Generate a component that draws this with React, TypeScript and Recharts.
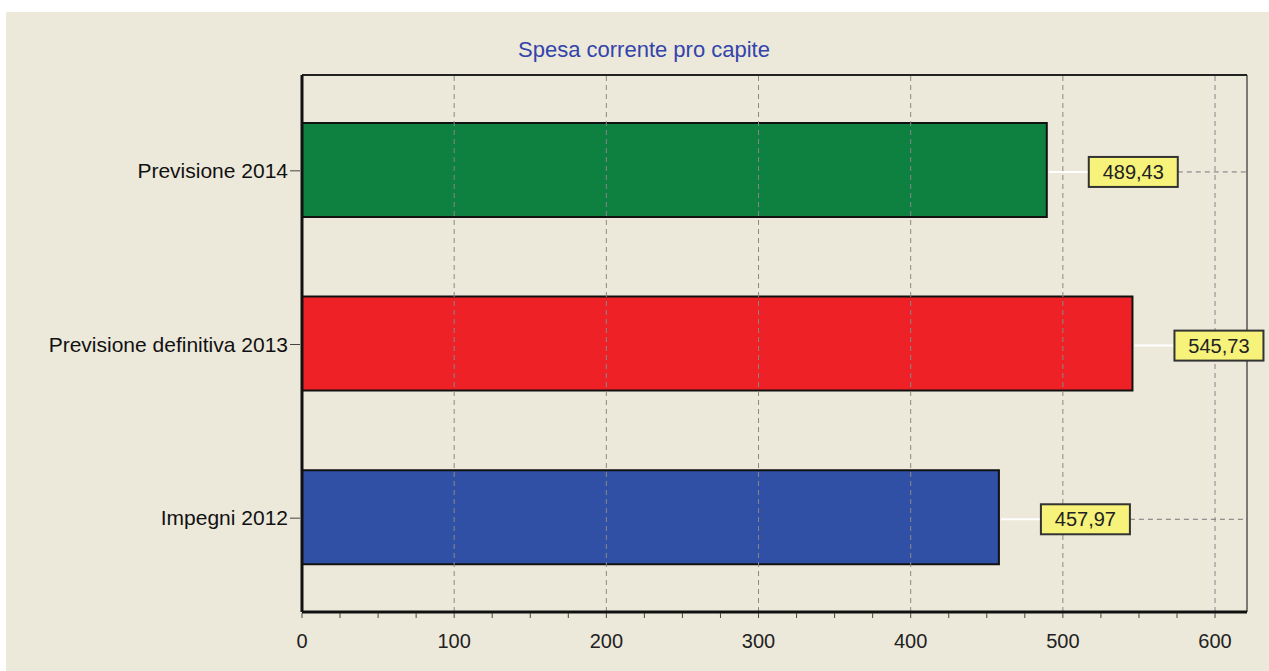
import React from 'react';
import { BarChart, Bar, XAxis, YAxis, Cell, LabelList, ReferenceLine } from 'recharts';

const categories = ['Previsione 2014', 'Previsione definitiva 2013', 'Impegni 2012'];
const values = [489.43, 545.73, 457.97];
const valueLabels = ['489,43', '545,73', '457,97'];
const colors = ['#0E8040', '#EE2226', '#3050A5'];
const xTicks = [0, 25, 50, 75, 100, 125, 150, 175, 200, 225, 250, 275, 300, 325, 350, 375, 400, 425, 450, 475, 500, 525, 550, 575, 600];
const majorTicks = [0, 100, 200, 300, 400, 500, 600];
const gridLines = [100, 200, 300, 400, 500, 600];
const xMax = 621;
const title = 'Spesa corrente pro capite';

const data = categories.map((c, i) => ({ name: c, value: values[i], label: valueLabels[i] }));

const W = 1269;
const H = 671;
const MARGIN = { top: 74, right: 22, bottom: 0, left: 0 };
const PLOT_RIGHT = W - MARGIN.right;
const FONT = '"Liberation Sans", Arial, sans-serif';

const XTick = (props: any) => {
  const { x, y, payload } = props;
  const v = payload.value;
  const isMajor = majorTicks.indexOf(v) >= 0;
  return (
    <g>
      <line x1={x} x2={x} y1={y - 7} y2={y - 2} stroke="#444" strokeWidth={1} />
      {isMajor && (
        <text x={x} y={y + 28} textAnchor="middle" fontSize={20} fontFamily={FONT} fill="#222">
          {v}
        </text>
      )}
    </g>
  );
};

const YTick = (props: any) => {
  const { x, y, payload } = props;
  return (
    <g>
      <line x1={x - 4} x2={x + 6} y1={y + 1} y2={y + 1} stroke="#444" strokeWidth={1} />
      <text x={x - 6} y={y + 8} textAnchor="end" fontSize={21} fontFamily={FONT} fill="#111">
        {payload.value}
      </text>
    </g>
  );
};

const LabelBox = (props: any) => {
  const { x, y, width, height, index } = props;
  const end = x + width;
  const cy = y + height / 2 + 2;
  const lx = end + 42;
  const bw = 89;
  const bh = 30;
  return (
    <g>
      <line x1={end + 2} x2={lx} y1={cy} y2={cy} stroke="#ffffff" strokeWidth={2} />
      {lx + bw < PLOT_RIGHT && (
        <line x1={lx + bw} x2={PLOT_RIGHT} y1={cy} y2={cy} stroke="#777" strokeWidth={1} strokeDasharray="5 4" />
      )}
      <rect x={lx} y={cy - bh / 2} width={bw} height={bh} fill="#F6F27A" stroke="#333" strokeWidth={2} />
      <text x={lx + bw / 2} y={cy + 7} textAnchor="middle" fontSize={20} fontFamily={FONT} fill="#222">
        {valueLabels[index]}
      </text>
    </g>
  );
};

export default function App() {
  return (
    <div style={{ position: 'absolute', left: 0, top: 0, width: W, height: H, background: '#ffffff', overflow: 'hidden' }}>
      <div style={{ position: 'absolute', left: 6, top: 12, width: W - 6, height: H - 12, background: '#ECE8DA' }} />
      <div style={{ position: 'absolute', left: 0, top: 0 }}>
        <BarChart width={W} height={H} data={data} layout="vertical" margin={MARGIN} barCategoryGap="23%">
          <text x={644} y={57} textAnchor="middle" fontSize={22} fontFamily={FONT} fill="#3344AA">
            {title}
          </text>
          <XAxis
            type="number"
            dataKey="value"
            domain={[0, xMax]}
            ticks={xTicks}
            interval={0}
            tick={<XTick />}
            tickLine={false}
            axisLine={{ stroke: '#111', strokeWidth: 3 }}
            height={59}
          />
          <XAxis
            xAxisId="top"
            orientation="top"
            type="number"
            domain={[0, xMax]}
            height={1}
            tick={false}
            tickLine={false}
            axisLine={{ stroke: '#222', strokeWidth: 2 }}
          />
          <YAxis
            type="category"
            dataKey="name"
            width={302}
            padding={{ top: 8, bottom: 8 }}
            tick={<YTick />}
            tickLine={false}
            axisLine={{ stroke: '#111', strokeWidth: 3 }}
          />
          {gridLines.map((g) => (
            <ReferenceLine key={g} x={g} stroke="#888" strokeDasharray="5 4" strokeWidth={1} />
          ))}
          <ReferenceLine x={xMax} stroke="#555" strokeWidth={1.5} />
          <Bar dataKey="value" isAnimationActive={false} stroke="#111" strokeWidth={2}>
            {data.map((d, i) => (
              <Cell key={d.name} fill={colors[i]} />
            ))}
            <LabelList dataKey="label" content={<LabelBox />} />
          </Bar>
        </BarChart>
      </div>
    </div>
  );
}
